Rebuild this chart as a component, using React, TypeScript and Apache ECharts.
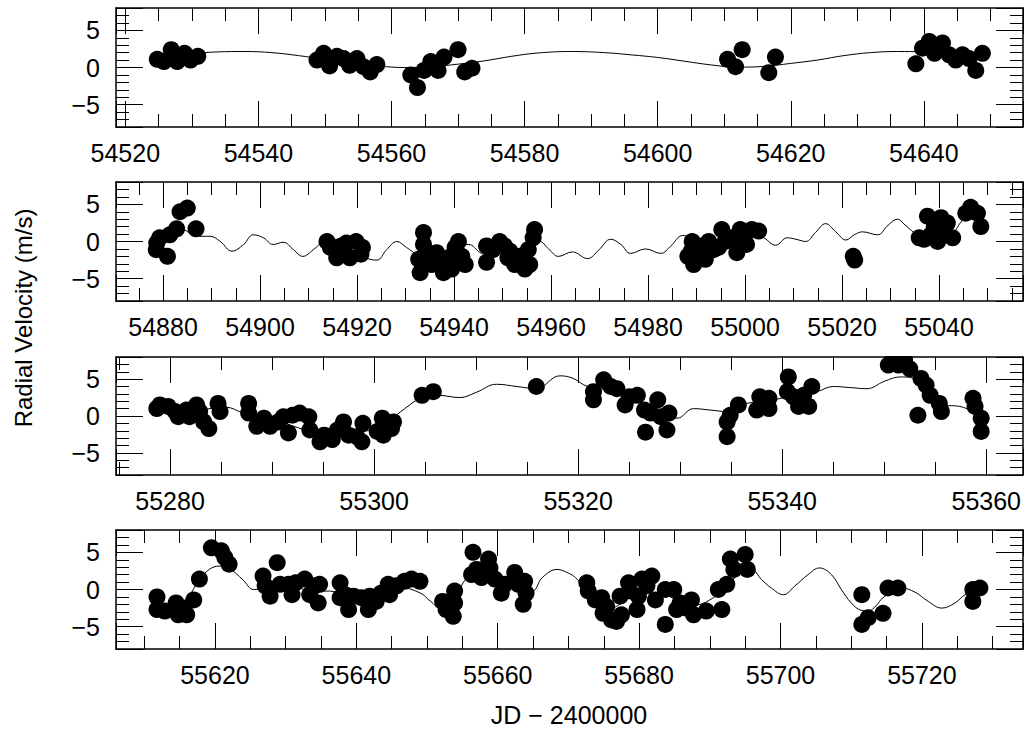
import React, { useEffect, useRef } from "react";
import * as echarts from "echarts";

// ---------- Data (JD - 2400000, radial velocity m/s) ----------
const rv1: [number, number][] = [
  [54524.8, 1.1], [54525.8, 0.8], [54526.9, 2.4], [54527.8, 0.8], [54528.9, 1.9], [54529.8, 1.0], [54530.9, 1.5],
  [54548.8, 1.0], [54549.8, 1.9], [54550.7, 0.2], [54551.8, 1.5], [54552.8, 1.2], [54553.7, 0.3], [54554.8, 1.2],
  [54555.8, 0.1], [54556.8, -0.6], [54557.8, 0.4],
  [54562.9, -1.0], [54563.9, -2.7], [54564.9, -0.4], [54565.9, 0.8], [54567.0, -0.4], [54567.9, 1.4],
  [54570.0, 2.4], [54571.0, -0.6], [54572.1, -0.1],
  [54610.5, 1.1], [54611.7, 0.1], [54612.7, 2.4], [54616.7, -0.7], [54617.7, 1.4],
  [54638.8, 0.5], [54639.8, 2.6], [54640.8, 3.5], [54641.6, 1.9], [54642.8, 3.3], [54643.8, 1.7], [54644.8, 1.0],
  [54645.8, 1.7], [54646.8, 1.2], [54647.8, -0.4], [54648.8, 1.9],
];
const fit1: [number, number][] = [
  [54524.8, 1.3], [54530, 1.85], [54534, 2.1], [54538, 2.15], [54542, 2.0], [54546, 1.6], [54550, 1.1],
  [54554, 0.6], [54558, 0.2], [54562, 0.0], [54566, 0.1], [54570, 0.45], [54574, 0.9], [54578, 1.5],
  [54582, 1.95], [54587, 2.15], [54592, 2.0], [54596, 1.7], [54600, 1.35], [54604, 0.85], [54608, 0.35],
  [54612, 0.05], [54616, 0.15], [54620, 0.55], [54624, 1.0], [54628, 1.6], [54632, 2.0], [54636, 2.15],
  [54640, 2.1], [54644, 1.8], [54648.8, 1.3],
];

const rv2: [number, number][] = [
  [54878.7, -0.2], [54878.6, -1.1], [54879.3, 0.5], [54880.9, -2.0], [54881.4, 0.9], [54882.8, 1.7],
  [54883.5, 4.0], [54885.0, 4.5], [54886.8, 1.7],
  [54913.8, 0.0], [54914.5, -0.8], [54915.8, -2.2], [54916.8, -0.6], [54917.8, -0.2], [54918.5, -2.2],
  [54919.8, 0.0], [54920.8, -1.7], [54921.1, -0.8],
  [54933.7, 1.2], [54932.7, -2.4], [54933.0, -4.2], [54933.7, -0.4], [54934.7, -2.0], [54935.4, -3.1],
  [54936.4, -1.5], [54937.4, -3.3], [54937.8, -4.2], [54938.8, -2.2], [54939.5, -3.7], [54940.2, -0.8],
  [54940.9, 0.0], [54941.6, -2.0], [54942.3, -3.1],
  [54946.7, -0.6], [54946.7, -2.8], [54948.0, -1.1], [54949.4, 0.0], [54950.4, -0.6], [54951.1, -2.2],
  [54951.5, -1.3], [54952.5, -3.1], [54953.5, -2.0], [54954.6, -3.7], [54955.3, -1.1], [54955.6, -3.1],
  [54956.3, 0.5], [54956.6, 1.6],
  [54989.1, 0.0], [54988.9, -1.3], [54988.2, -2.0], [54989.4, -3.1], [54990.4, -0.6], [54991.1, -1.5],
  [54991.8, -2.4], [54992.5, 0.0], [54993.5, -1.1], [54994.5, -0.8], [54995.2, 1.6], [54995.9, 0.0],
  [54997.3, 0.5], [54998.3, -1.5], [54999.0, 1.6], [54999.7, 0.3], [55000.3, -0.4], [55001.4, 1.6],
  [55002.8, 1.4],
  [55022.3, -2.0], [55022.6, -2.5],
  [55035.9, 0.5], [55036.9, 0.3], [55037.6, 3.4], [55038.3, 0.9], [55039.0, 2.0], [55039.7, 0.0],
  [55040.4, 3.2], [55040.7, 1.6], [55041.7, 2.5], [55042.8, 0.5], [55045.5, 3.8], [55046.5, 4.6],
  [55047.9, 3.8], [55048.6, 2.0],
];
const fit2: [number, number][] = [
  [54878.5, -0.3], [54881, 0.8], [54884, 1.6], [54886.8, 0.7], [54889.7, 0.7], [54891.8, 0.0],
  [54894.2, -1.3], [54896.6, -0.4], [54898.6, 0.9], [54900.7, 0.5], [54902.7, -0.4], [54904.8, -0.1],
  [54906.9, -1.1], [54908.8, -2.0], [54911, -1.1], [54913.1, 0.0], [54915.5, 0.3], [54918, -0.6],
  [54920.5, -1.8], [54922.7, -2.4], [54924.1, -2.5], [54926.1, -1.1], [54928.2, 0.0], [54930.2, -0.8],
  [54932.5, -1.8], [54934.5, -2.2], [54936.5, -1.2], [54938.5, -1.5], [54940.5, -0.5], [54943, -0.4],
  [54945.4, -1.5], [54947.5, -2.0], [54949.5, -0.9], [54951.5, -1.0], [54953.5, -2.1], [54955.5, -1.4],
  [54957.7, 0.0], [54959.5, -1.0], [54961.5, -2.0], [54964.4, -1.4], [54967.5, -2.3], [54969.9, -1.1],
  [54972.3, 0.3], [54974.4, -0.4], [54976.4, -1.6], [54979.5, -1.0], [54982.6, -1.6], [54984.7, -0.6],
  [54987.1, 0.8], [54989.5, 0.3], [54991.5, -0.8], [54993.5, -1.0], [54995.5, 0.3], [54997.5, 1.2],
  [54999.5, 0.4], [55001.5, 1.3], [55003.9, 0.5], [55006.3, -0.5], [55008.7, 0.5], [55010.5, 0.3],
  [55012.5, 0.0], [55014.5, 1.2], [55016.6, 2.4], [55018.7, 1.3], [55020.8, 0.2], [55022.5, 0.9],
  [55024.2, 1.3], [55027.3, 0.9], [55029.5, 2.2], [55031.4, 3.0], [55033, 2.2], [55034.8, 1.2],
  [55036.5, 0.3], [55038.5, 1.3], [55040.5, 0.9], [55042.5, 1.0], [55044.5, 2.6], [55046.5, 3.9],
  [55048.6, 3.0],
];

const rv3: [number, number][] = [
  [55278.7, 1.0], [55279.0, 1.5], [55279.8, 1.3], [55280.5, 0.6], [55280.8, -0.1], [55281.6, 0.8],
  [55281.9, -0.1], [55282.6, 1.5], [55282.9, 0.6], [55283.3, -0.8], [55283.8, -1.7], [55284.7, 1.7],
  [55284.9, 0.6],
  [55287.7, 1.7], [55287.7, 0.4], [55288.5, -1.4], [55289.2, -0.3], [55289.8, -1.4], [55290.6, -0.8],
  [55291.1, -0.1], [55291.6, -2.3], [55292.0, 0.1], [55292.7, 0.4], [55293.6, -0.1], [55293.7, -1.9],
  [55294.7, -3.5], [55295.1, -2.6], [55295.9, -3.2], [55296.4, -1.9], [55297.0, -0.8], [55297.5, -2.6],
  [55298.3, -2.8], [55298.8, -3.5], [55298.9, -1.0], [55300.3, -2.1], [55300.8, -0.3], [55300.9, -2.6],
  [55301.9, -0.8], [55301.7, -1.7],
  [55304.7, 2.8], [55305.8, 3.3], [55315.9, 4.0],
  [55321.5, 3.3], [55321.5, 2.2], [55322.5, 4.9], [55323.2, 4.0], [55323.8, 3.7], [55324.6, 1.5],
  [55325.0, 2.6], [55325.8, 2.8], [55326.5, 0.8], [55326.6, -2.2], [55327.1, 0.4], [55327.8, 2.2],
  [55328.1, -0.1], [55328.7, -1.9], [55328.9, 0.4],
  [55334.6, -2.8], [55334.6, -0.8], [55334.9, 0.1], [55335.7, 1.5], [55337.5, 0.8], [55337.8, 2.6],
  [55338.7, 1.0], [55338.7, 2.4],
  [55340.6, 5.3], [55340.5, 3.3], [55341.1, 2.6], [55341.6, 1.3], [55342.1, 2.8], [55342.6, 1.3],
  [55342.9, 4.0],
  [55350.4, 6.9], [55350.9, 7.8], [55351.4, 6.9], [55352.0, 7.6], [55352.5, 6.4], [55353.3, 0.1],
  [55353.6, 5.1], [55354.1, 4.2], [55354.5, 2.8], [55355.4, 1.7], [55355.6, 0.6],
  [55358.7, 2.4], [55358.9, 1.3], [55359.5, -0.3], [55359.5, -2.1],
];
const fit3: [number, number][] = [
  [55278.7, 1.2], [55281, 1.1], [55283, 0.9], [55285.4, 1.2], [55287.2, 0.4], [55289, -0.3],
  [55291, -0.9], [55293, -1.8], [55295, -2.6], [55297, -2.3], [55299, -2.1], [55300.5, -1.4],
  [55301.6, -0.5], [55303, 1.0], [55304.7, 2.5], [55306.3, 2.8], [55308.4, 2.5], [55310, 3.2],
  [55312, 4.3], [55314, 4.0], [55315.9, 3.7], [55318.2, 5.45], [55319.5, 5.1], [55320.9, 4.0],
  [55323, 3.5], [55325, 2.6], [55327, 1.3], [55328.5, 0.3], [55329.7, -0.3], [55331.3, 1.0],
  [55333, 0.8], [55334.6, 0.6], [55336.5, 1.7], [55338.5, 2.0], [55340.5, 2.6], [55342, 3.0],
  [55343.4, 3.3], [55345, 4.0], [55346.7, 3.85], [55348.3, 3.7], [55350, 4.7], [55351.6, 5.3],
  [55352.6, 5.2], [55354, 3.4], [55355.8, 1.5], [55357.4, 1.3], [55358.8, 0.6], [55359.5, 0.2],
];

const rv4: [number, number][] = [
  [55611.8, -1.0], [55611.8, -2.7], [55612.9, -2.9], [55614.5, -1.8], [55614.8, -3.4], [55615.6, -2.5],
  [55616.0, -3.4], [55617.0, -1.4], [55617.8, 1.4], [55619.5, 5.6], [55620.9, 5.2], [55621.4, 4.3],
  [55622.0, 3.4],
  [55626.8, 1.8], [55627.1, 0.5], [55627.8, -0.9], [55628.8, 3.6], [55629.2, 0.7], [55630.4, 0.7],
  [55630.9, -0.7], [55631.4, 0.9], [55632.7, 1.4], [55633.4, -0.7], [55634.1, 0.5], [55634.8, 0.7],
  [55634.6, -1.8],
  [55637.7, 0.9], [55637.7, -1.1], [55638.4, -0.7], [55638.9, -2.7], [55639.6, -0.9], [55640.7, -1.1],
  [55641.7, -2.7], [55641.9, -0.9], [55642.8, -1.6], [55643.5, -0.5], [55644.5, 0.7], [55644.7, -0.7],
  [55645.7, 0.5], [55646.8, 1.1], [55647.8, 1.4], [55649.0, 1.1],
  [55652.2, -1.6], [55652.7, -2.7], [55653.7, -3.6], [55653.9, -0.2], [55653.9, -1.8],
  [55656.5, 5.0], [55656.3, 2.0], [55657.0, 2.7], [55657.7, 1.6], [55658.7, 4.1], [55658.9, 2.9],
  [55659.6, 1.4], [55660.5, -0.5], [55661.0, 0.7], [55662.4, 2.3], [55662.9, 0.7], [55663.8, 1.1],
  [55663.6, -2.0], [55664.0, -0.5],
  [55672.6, 0.9], [55672.8, -0.2], [55673.8, -1.4], [55674.7, -1.1], [55674.9, -3.2], [55675.4, -2.3],
  [55676.1, -4.1], [55676.8, -4.3], [55677.3, -0.9], [55677.5, -3.4], [55678.5, 0.9], [55678.7, -0.2],
  [55679.7, -2.7], [55679.9, -0.9], [55680.4, 1.4], [55681.1, 0.5], [55681.8, 1.8], [55682.3, -1.4],
  [55683.7, -4.7], [55683.7, 0.0], [55684.9, 0.0], [55685.3, -2.7], [55685.8, -1.8], [55686.7, -2.5],
  [55687.4, -1.4], [55687.7, -3.4], [55689.5, -2.9], [55691.7, -2.7], [55691.2, 0.0], [55692.4, 0.7],
  [55692.9, 4.1], [55693.4, 2.7], [55695.0, 4.7], [55695.3, 2.7],
  [55711.5, -0.7], [55711.5, -4.7], [55712.4, -3.8], [55714.5, -3.2], [55715.2, 0.2], [55716.6, 0.2],
  [55727.2, -1.6], [55727.2, 0.0], [55728.2, 0.2],
];
const fit4: [number, number][] = [
  [55611.8, -2.2], [55614, -2.7], [55616, -1.3], [55617.8, 1.35], [55619.2, 2.7], [55620.6, 3.15],
  [55622.2, 2.7], [55623.9, 1.35], [55625.5, 0.0], [55627.5, 0.3], [55629.5, 0.9], [55631.5, 0.5],
  [55633.5, -0.3], [55636.2, -0.2], [55638.5, -0.9], [55641, -1.0], [55643.5, -0.6], [55646, 0.3],
  [55649, -0.45], [55650.5, -1.6], [55651.9, -2.5], [55653.5, -2.3], [55655.1, 0.9], [55657, 2.6],
  [55659, 2.3], [55661, 1.2], [55663, 0.6], [55664.9, -0.2], [55666.3, 1.6], [55668.4, 2.7],
  [55670, 2.2], [55671, 1.6], [55672.1, 0.45], [55674, -1.0], [55676, -2.5], [55678, -1.5],
  [55680, -0.5], [55682, -0.6], [55684, -0.8], [55686.5, -2.2], [55688.6, -2.0], [55690.5, -1.1],
  [55692.4, 0.2], [55694, 2.0], [55695.9, 2.7], [55697.3, 1.35], [55698.7, 0.2], [55700.4, -0.7],
  [55702, 0.45], [55703.9, 2.0], [55705.5, 2.9], [55707.2, 2.0], [55708.6, 0.0], [55710, -1.8],
  [55711.4, -2.8], [55712.4, -2.9], [55713.5, -2.2], [55714.5, -1.1], [55717.1, 0.2], [55719, -0.35],
  [55720.9, -1.6], [55722.8, -2.5], [55724.7, -1.8], [55726.1, -0.7], [55728.2, 0.1],
];

// axis ranges of each panel (JD - 2400000)
const xRanges: [number, number][] = [
  [54518.6, 54654.9],
  [54870.3, 55057.3],
  [55274.7, 55363.6],
  [55606.0, 55734.3],
];
const yRange: [number, number] = [-8, 8];
const xMajor = 20;
const yMajor = 5;
const yTitle = "Radial Velocity (m/s)";
const xTitle = "JD \u2212 2400000";

const panelsObs = [rv1, rv2, rv3, rv4];
const panelsFit = [fit1, fit2, fit3, fit4];

const FONT = "'Liberation Sans', Arial, Helvetica, sans-serif";
const TOPS = [8, 182, 357, 530];
const HEIGHTS = [119, 119, 118, 119];

export default function App() {
  const ref = useRef<HTMLDivElement>(null);

  useEffect(() => {
    if (!ref.current) return;
    const chart = echarts.init(ref.current, undefined, { renderer: "svg" });

    const xFmt = (v: number) => {
      const q = v / xMajor;
      return Math.abs(q - Math.round(q)) < 1e-6 ? String(Math.round(v)) : "";
    };
    const yFmt = (v: number) => {
      const r = Math.round(v);
      if (Math.abs(v - r) > 1e-6 || r % yMajor !== 0) return "";
      return r < 0 ? "\u2212" + String(-r) : String(r);
    };
    const lineStyle = { color: "#000", width: 1.5 };
    const tickStyle = { color: "#000", width: 1 };

    const xAxis: any[] = [];
    const yAxis: any[] = [];
    const series: any[] = [];

    for (let g = 0; g < 4; g++) {
      ["bottom", "top"].forEach((pos) => {
        xAxis.push({
          type: "value",
          gridIndex: g,
          position: pos,
          z: 6,
          min: xRanges[g][0],
          max: xRanges[g][1],
          splitNumber: 6,
          minInterval: xMajor,
          maxInterval: xMajor,
          axisLine: { show: true, onZero: false, lineStyle },
          axisTick: { show: true, inside: true, length: 26, lineStyle: tickStyle },
          minorTick: { show: true, splitNumber: 4, length: 13, lineStyle: tickStyle },
          splitLine: { show: false },
          minorSplitLine: { show: false },
          axisLabel:
            pos === "bottom"
              ? { show: true, formatter: xFmt, fontSize: 25, fontFamily: FONT, color: "#000", margin: 13 }
              : { show: false },
        });
      });
      ["left", "right"].forEach((pos) => {
        yAxis.push({
          type: "value",
          gridIndex: g,
          position: pos,
          z: 6,
          min: yRange[0],
          max: yRange[1],
          splitNumber: 3,
          minInterval: yMajor,
          maxInterval: yMajor,
          axisLine: { show: true, onZero: false, lineStyle },
          axisTick: { show: true, inside: true, length: 27, lineStyle: tickStyle },
          minorTick: { show: true, splitNumber: 5, length: 13, lineStyle: tickStyle },
          splitLine: { show: false },
          minorSplitLine: { show: false },
          axisLabel:
            pos === "left"
              ? { show: true, formatter: yFmt, fontSize: 25, fontFamily: FONT, color: "#000", margin: 16 }
              : { show: false },
        });
      });
      series.push({
        type: "line",
        xAxisIndex: 2 * g,
        yAxisIndex: 2 * g,
        data: panelsFit[g],
        smooth: 0.4,
        symbol: "none",
        clip: false,
        lineStyle: { color: "#000", width: 1 },
        z: 2,
      });
      series.push({
        type: "scatter",
        xAxisIndex: 2 * g,
        yAxisIndex: 2 * g,
        data: panelsObs[g],
        symbol: "circle",
        symbolSize: 17,
        clip: false,
        itemStyle: { color: "#000", opacity: 1 },
        z: 3,
      });
    }

    chart.setOption({
      animation: false,
      backgroundColor: "#fff",
      grid: TOPS.map((t, i) => ({ left: 116, right: 6, top: t, height: HEIGHTS[i] })),
      xAxis,
      yAxis,
      series,
      graphic: [
        {
          type: "rect",
          shape: { x: 117, y: 340, width: 905, height: 16 },
          style: { fill: "#fff" },
          z: 10,
        },
        {
          type: "text",
          x: 23,
          y: 318,
          rotation: Math.PI / 2,
          style: {
            text: yTitle,
            fontSize: 24,
            fontFamily: FONT,
            fill: "#000",
            align: "center",
            verticalAlign: "middle",
          },
        },
        {
          type: "text",
          x: 569,
          y: 715,
          style: {
            text: xTitle,
            fontSize: 25,
            fontFamily: FONT,
            fill: "#000",
            align: "center",
            verticalAlign: "middle",
          },
        },
      ],
    });

    return () => {
      chart.dispose();
    };
  }, []);

  return (
    <div
      ref={ref}
      style={{ position: "fixed", left: 0, top: 0, width: 1029, height: 734, background: "#fff" }}
    />
  );
}
